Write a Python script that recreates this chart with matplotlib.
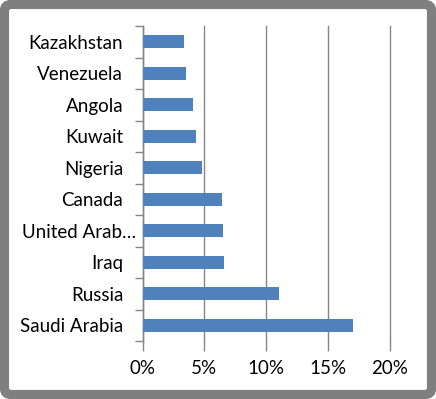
import matplotlib
matplotlib.use("Agg")
import matplotlib.pyplot as plt
import matplotlib.transforms as mtransforms
from matplotlib.patches import FancyBboxPatch
from matplotlib.ticker import FuncFormatter

countries = ["Saudi Arabia", "Russia", "Iraq", "United Arab…", "Canada",
             "Nigeria", "Kuwait", "Angola", "Venezuela", "Kazakhstan"]
shares = [17.0, 11.0, 6.6, 6.5, 6.4, 4.8, 4.3, 4.1, 3.5, 3.35]
xticks = [0, 5, 10, 15, 20]

W, H = 436, 399
fig = plt.figure(figsize=(W / 100, H / 100), dpi=100)
fig.patch.set_facecolor("white")

# outer gray frame
px, py = 4.5 / W, 4.5 / H
frame = FancyBboxPatch((px, py), 1 - 2 * px, 1 - 2 * py,
                       boxstyle="round,pad=0,rounding_size=0.015",
                       transform=fig.transFigure, facecolor="none",
                       edgecolor="#7f7f7f", linewidth=6.6, zorder=-10)
fig.patches.append(frame)

ax = fig.add_axes([142.7 / W, 1 - 341 / H, (389.7 - 142.7) / W, (341 - 26) / H])
ax.set_facecolor("none")
y = list(range(len(countries)))
ax.barh(y, shares, height=0.4, color="#4F81BD", zorder=3)
ax.set_xlim(0, 20)
ax.set_ylim(-0.5, len(countries) - 0.5)
ax.set_xticks(xticks)
ax.xaxis.set_major_formatter(FuncFormatter(lambda v, p: f"{v:.0f}%"))
ax.set_yticks(y)
ax.set_yticklabels(countries)
ax.set_yticks([i - 0.5 for i in range(len(countries) + 1)], minor=True)

ax.grid(axis="x", color="#868686", linewidth=1, zorder=1)
for gl in ax.get_xgridlines():
    gl.set_clip_on(False)
for s in ["top", "right", "bottom"]:
    ax.spines[s].set_visible(False)
ax.spines["left"].set_color("#868686")
ax.spines["left"].set_linewidth(1)

ax.tick_params(axis="x", length=7, width=1, color="#868686", pad=7,
               labelsize=13.5, labelcolor="#000000")
ax.tick_params(axis="y", which="major", length=0, pad=14, labelsize=13.5)
ax.tick_params(axis="y", which="minor", length=6, width=1, color="#868686")
for lab in ax.get_xticklabels() + ax.get_yticklabels():
    lab.set_family(["Lato", "DejaVu Sans"])

# truncated label overhangs to the right like in the original
shift = mtransforms.ScaledTranslation(13 / 100, 0, fig.dpi_scale_trans)
for tick in ax.yaxis.get_major_ticks():
    if tick.label1.get_text().endswith("…"):
        tick.label1.set_transform(tick.label1.get_transform() + shift)

fig.savefig("out.png", dpi=100, facecolor="white")
